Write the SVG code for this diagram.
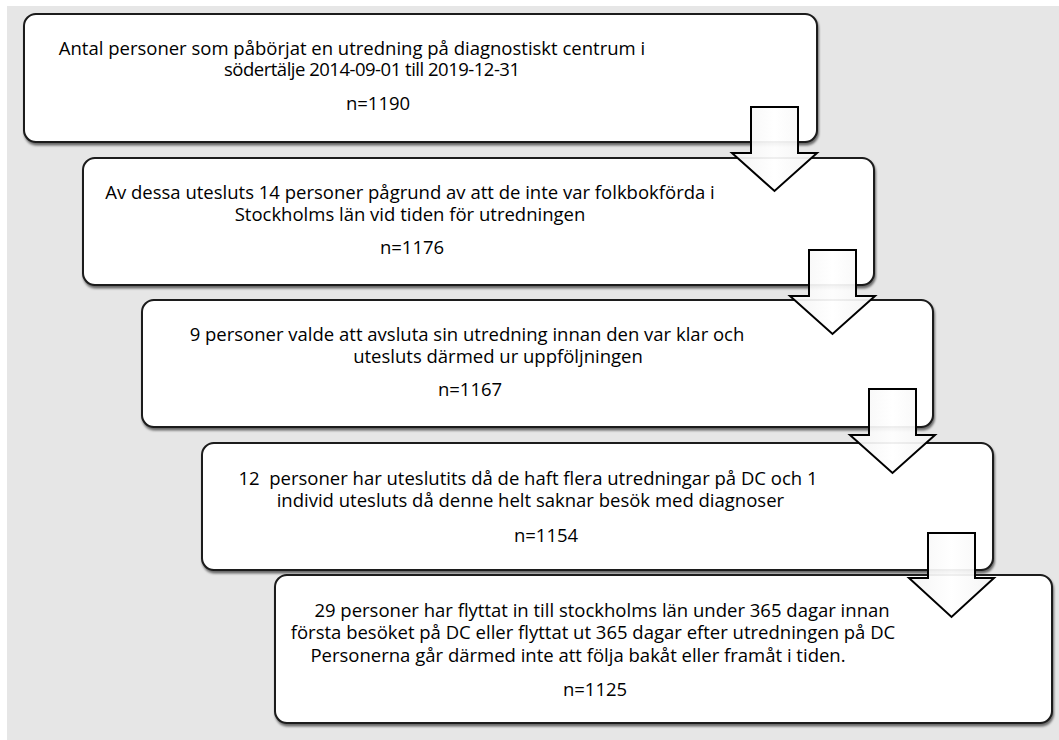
<svg xmlns="http://www.w3.org/2000/svg" width="1059" height="740" viewBox="0 0 1059 740">
<defs>
<style>
.box{fill:#fff;stroke:#1a1a1a;stroke-width:2;filter:url(#sh)}
.t{font-family:"Open Sans","Liberation Sans",sans-serif;font-size:18.5px;fill:#000;text-anchor:middle;white-space:pre}
.arr{fill:url(#ag);fill-opacity:0.93;stroke:#000;stroke-width:2;stroke-linejoin:miter}
</style>
<filter id="sh" x="-5%" y="-10%" width="110%" height="130%">
<feDropShadow dx="1" dy="2.5" stdDeviation="1.2" flood-color="#000" flood-opacity="0.55"/>
</filter>
<linearGradient id="ag" x1="0" y1="0" x2="1" y2="0">
<stop offset="0" stop-color="#f3f3f3"/><stop offset="0.5" stop-color="#ffffff"/><stop offset="1" stop-color="#f3f3f3"/>
</linearGradient>
</defs>
<rect x="7" y="6" width="1052" height="734" fill="#e6e6e6"/>
<g id="node1">
<rect class="box" x="24" y="14" width="793" height="128" rx="12"/>
<text class="t" x="352" y="55">Antal personer som påbörjat en utredning på diagnostiskt centrum i</text>
<text class="t" x="372" y="76" textLength="296" lengthAdjust="spacing">södertälje 2014-09-01 till 2019-12-31</text>
<text class="t" x="378" y="110">n=1190</text>
</g>
<g id="node2">
<rect class="box" x="83" y="158" width="791" height="127" rx="12"/>
<text class="t" x="410" y="199">Av dessa utesluts 14 personer pågrund av att de inte var folkbokförda i</text>
<text class="t" x="410" y="221">Stockholms län vid tiden för utredningen</text>
<text class="t" x="412" y="254">n=1176</text>
</g>
<g id="node3">
<rect class="box" x="142" y="300" width="791" height="127" rx="12"/>
<text class="t" x="467" y="341">9 personer valde att avsluta sin utredning innan den var klar och</text>
<text class="t" x="498" y="363">utesluts därmed ur uppföljningen</text>
<text class="t" x="470" y="396">n=1167</text>
</g>
<g id="node4">
<rect class="box" x="202" y="443" width="791" height="127" rx="12"/>
<text class="t" x="528" y="485">12  personer har uteslutits då de haft flera utredningar på DC och 1</text>
<text class="t" x="528" y="507"> individ utesluts då denne helt saknar besök med diagnoser</text>
<text class="t" x="546" y="542">n=1154</text>
</g>
<g id="node5">
<rect class="box" x="275" y="575" width="777" height="148" rx="12"/>
<text class="t" x="602" y="617">29 personer har flyttat in till stockholms län under 365 dagar innan</text>
<text class="t" x="593" y="639">första besöket på DC eller flyttat ut 365 dagar efter utredningen på DC</text>
<text class="t" x="578" y="662">Personerna går därmed inte att följa bakåt eller framåt i tiden.</text>
<text class="t" x="595" y="696">n=1125</text>
</g>
<g id="connectors">
<path class="arr" d="M751,107 H798 V153 H817 L774.5,191 L732,153 H751 Z"/>
<path class="arr" d="M809,250 H856 V296 H875 L832.5,334 L790,296 H809 Z"/>
<path class="arr" d="M869,389 H916 V435 H935 L892.5,473 L850,435 H869 Z"/>
<path class="arr" d="M928,533 H975 V578 H994 L951.5,617 L909,578 H928 Z"/>
</g>
</svg>
